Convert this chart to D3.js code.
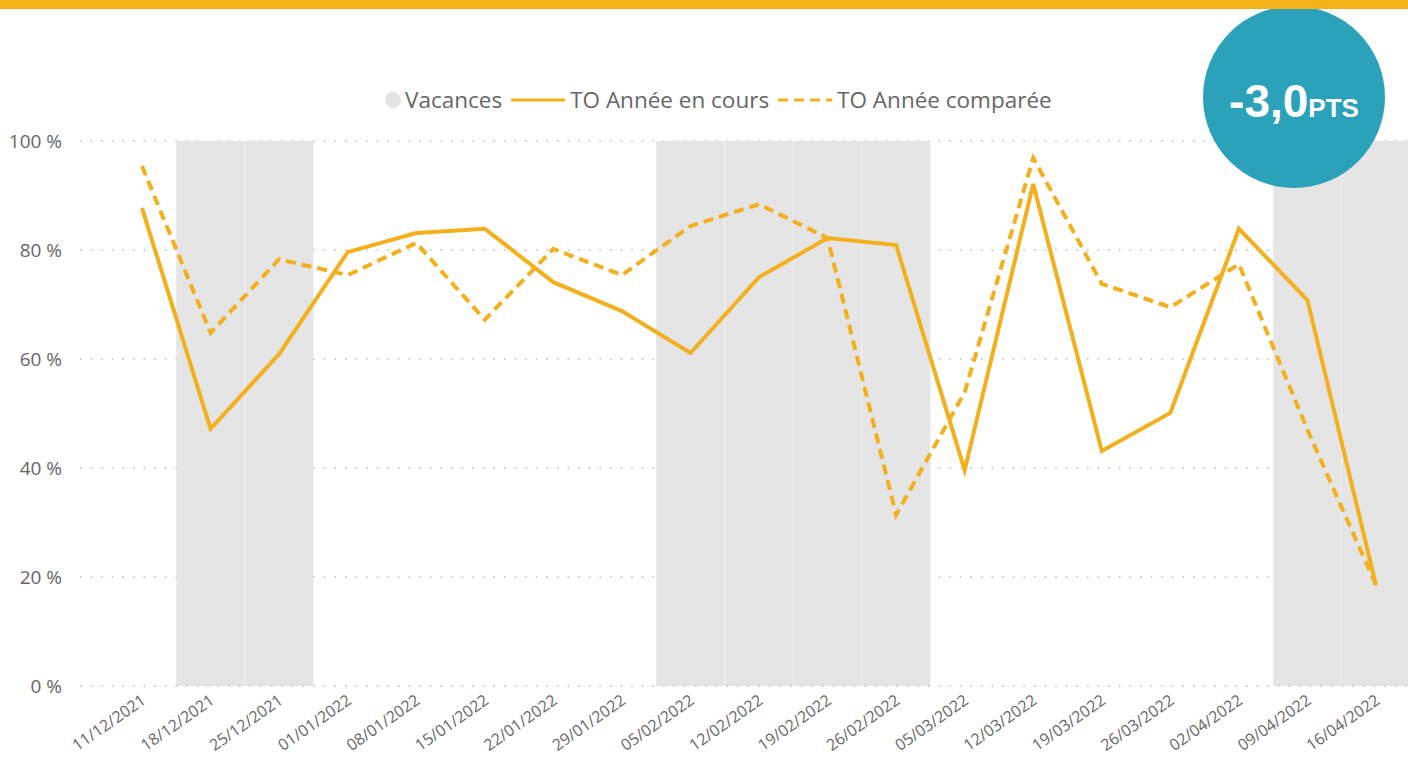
<!DOCTYPE html>
<html>
<head>
<meta charset="utf-8">
<script src="https://cdn.jsdelivr.net/npm/d3@7"></script>
<style>
  body { margin: 0; background: #fff; }
  svg { display: block; font-family: "Open Sans", "Noto Sans", sans-serif; }
</style>
</head>
<body>
<div id="chart"></div>
<script>
var weeks = ["11/12/2021","18/12/2021","25/12/2021","01/01/2022","08/01/2022","15/01/2022",
  "22/01/2022","29/01/2022","05/02/2022","12/02/2022","19/02/2022","26/02/2022",
  "05/03/2022","12/03/2022","19/03/2022","26/03/2022","02/04/2022","09/04/2022","16/04/2022"]

// 1 = semaine de vacances
var vacances = [0,1,1,0,0,0,0,0,1,1,1,1,0,0,0,0,0,1,1]

var toEnCours = [87.7,47.2,60.9,79.6,83.1,83.9,74.1,68.8,61.1,75.0,82.2,80.9,
  39.6,92.1,43.1,50.1,83.9,70.8,18.5]

var toComparee = [95.4,64.8,78.3,75.4,81.3,67.2,80.2,75.4,84.4,88.4,82.2,31.4,
  53.9,96.9,73.8,69.5,77.4,47.0,18.5]

var yTicks = [0,20,40,60,80,100]
var ecart = "-3,0"

var W = 1408, H = 758
var orange = "#F3B01C"

var svg = d3.select("#chart").append("svg")
  .attr("width", W)
  .attr("height", H)

var x = d3.scalePoint()
  .domain(weeks)
  .range([142, 1376])

var step = x.step()

var y = d3.scaleLinear()
  .domain([0, 100])
  .range([686, 141])

function gridLine(sel) {
  sel.attr("x1", 80)
    .attr("x2", W)
    .attr("y1", d => y(d))
    .attr("y2", d => y(d))
    .attr("stroke", "#bdbdbd")
    .attr("stroke-width", 1.6)
    .attr("stroke-dasharray", "1.6,9")
}

// grid lines (dotted)
svg.append("g")
  .selectAll("line")
  .data(yTicks.filter(d => d > 0))
  .enter()
  .append("line")
    .call(gridLine)

// vacances bands
var vacWeeks = weeks.filter((w, i) => vacances[i] == 1)
var bands = svg.append("g")
bands.selectAll("rect")
  .data(vacWeeks)
  .enter()
  .append("rect")
    .attr("x", d => x(d) - step / 2)
    .attr("width", step)
    .attr("y", y(100))
    .attr("height", y(0) - y(100))
    .attr("fill", "#e5e5e5")

// faint seams between consecutive vacation weeks
bands.selectAll("line")
  .data(vacWeeks.filter(d => vacances[weeks.indexOf(d) - 1] == 1))
  .enter()
  .append("line")
    .attr("x1", d => x(d) - step / 2)
    .attr("x2", d => x(d) - step / 2)
    .attr("y1", y(100))
    .attr("y2", y(0))
    .attr("stroke", "#efefef")
    .attr("stroke-width", 1)

// baseline dots stay on top of the bands
svg.append("line").datum(0).call(gridLine)

// y axis labels
svg.append("g")
  .selectAll("text")
  .data(yTicks)
  .enter()
  .append("text")
    .attr("x", 62)
    .attr("y", d => y(d))
    .attr("dy", "0.35em")
    .attr("text-anchor", "end")
    .attr("fill", "#666")
    .style("font-size", "19px")
    .text(d => d + " %")

// x axis labels
svg.append("g")
  .selectAll("text")
  .data(weeks)
  .enter()
  .append("text")
    .attr("transform", d => `translate(${x(d) - 2}, 693) rotate(-35)`)
    .attr("text-anchor", "end")
    .attr("dy", "0.75em")
    .attr("fill", "#666")
    .style("font-size", "16px")
    .text(d => d)

// lines
var line = d3.line()
  .x((d, i) => x(weeks[i]))
  .y(d => y(d))

svg.append("path")
  .datum(toComparee)
  .attr("d", line)
  .attr("fill", "none")
  .attr("stroke", orange)
  .attr("stroke-width", 4)
  .attr("stroke-dasharray", "10,6")

svg.append("path")
  .datum(toEnCours)
  .attr("d", line)
  .attr("fill", "none")
  .attr("stroke", orange)
  .attr("stroke-width", 4)

// legend
var legend = svg.append("g").attr("transform", "translate(0, 100)")
var lx = 393
legend.append("circle")
  .attr("cx", lx).attr("cy", 0).attr("r", 8)
  .attr("fill", "#e3e3e3")
lx += 12
var items = [
  {label: "Vacances", dash: null},
  {label: "TO Année en cours", dash: "none"},
  {label: "TO Année comparée", dash: "10,6"}
]
items.forEach(function(it, i) {
  if (i > 0) {
    legend.append("line")
      .attr("x1", lx).attr("x2", lx + 54)
      .attr("y1", 0).attr("y2", 0)
      .attr("stroke", orange)
      .attr("stroke-width", 3)
      .attr("stroke-dasharray", it.dash == "none" ? null : it.dash)
    lx += 59
  }
  var t = legend.append("text")
    .attr("x", lx).attr("y", 0)
    .attr("dy", "0.35em")
    .attr("fill", "#666")
    .style("font-size", "22.5px")
    .text(it.label)
  lx += t.node().getComputedTextLength() + 9
})

// badge
var badge = svg.append("g").attr("transform", "translate(1294, 97)")
badge.append("circle")
  .attr("r", 91)
  .attr("fill", "#2ba2b9")
var bt = badge.append("text")
  .attr("y", 20)
  .attr("text-anchor", "middle")
  .attr("fill", "#fff")
  .style("font-family", "'Liberation Sans', Arial, sans-serif")
  .style("font-weight", "bold")
bt.append("tspan").style("font-size", "46px").text(ecart)
bt.append("tspan").style("font-size", "26px").text("PTS")

// top bar
svg.append("rect")
  .attr("x", 0).attr("y", 0)
  .attr("width", W).attr("height", 9)
  .attr("fill", "#f4b11a")
</script>
</body>
</html>
